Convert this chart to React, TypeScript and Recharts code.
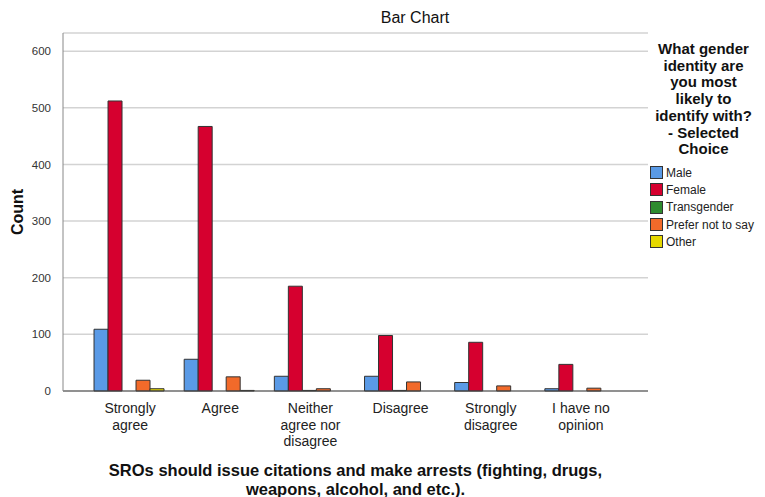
import React from "react";
import { BarChart, Bar, XAxis, YAxis, CartesianGrid } from "recharts";

document.body.style.margin = "0";

const CATEGORIES = ["Strongly agree", "Agree", "Neither agree nor disagree", "Disagree", "Strongly disagree", "I have no opinion"];
const MALE = [109, 56, 26, 26, 15, 4];
const FEMALE = [512, 467, 185, 98, 86, 47];
const TRANSGENDER = [0, 0, 1, 1, 0, 0];
const PREFER_NOT = [19, 25, 4, 16, 9, 5];
const OTHER = [4, 1, 0, 0, 0, 0];
const Y_TICKS = [0, 100, 200, 300, 400, 500, 600];

const SERIES = [
    { key: "male", name: "Male", color: "#5a9ae6" },
    { key: "female", name: "Female", color: "#d6002f" },
    { key: "transgender", name: "Transgender", color: "#2e8b2e" },
    { key: "prefer", name: "Prefer not to say", color: "#f26a2a" },
    { key: "other", name: "Other", color: "#e6d800" },
];

const LEGEND_TITLE = ["What gender", "identity are", "you most", "likely to", "identify with?", "- Selected", "Choice"];
const X_TITLE = ["SROs should issue citations and make arrests (fighting, drugs,", "weapons, alcohol, and etc.)."];

const data = CATEGORIES.map((name, i) => ({
    name,
    male: MALE[i],
    female: FEMALE[i],
    transgender: TRANSGENDER[i],
    prefer: PREFER_NOT[i],
    other: OTHER[i],
}));

const FONT = "'Liberation Sans', Arial, sans-serif";

function wrap(label: string, max = 9) {
    const lines: string[] = [];
    let cur = "";
    label.split(" ").forEach((w) => {
        if (cur && (cur + " " + w).length > max) {
            lines.push(cur);
            cur = w;
        } else {
            cur = cur ? cur + " " + w : w;
        }
    });
    if (cur) lines.push(cur);
    return lines;
}

function CategoryTick(props: any) {
    const { x, y, payload } = props;
    const lines = wrap(payload.value);
    return (
        <text x={x} y={y} textAnchor="middle" fontSize={14} fill="#222" fontFamily={FONT}>
            {lines.map((l, i) => (
                <tspan key={i} x={x} dy={i === 0 ? 14 : 16.5}>{l}</tspan>
            ))}
        </text>
    );
}

export default function App() {
    return (
        <div style={{ position: "relative", width: 765, height: 497, background: "#fff", fontFamily: FONT }}>
            <BarChart
                width={765}
                height={497}
                data={data}
                margin={{ top: 33, right: 117, bottom: 0, left: 0 }}
                barCategoryGap="10%"
                barGap={0}
            >
                <CartesianGrid vertical={false} stroke="#d3d3d3" strokeWidth={1.5} />
                <XAxis
                    dataKey="name"
                    interval={0}
                    tickLine={false}
                    axisLine={{ stroke: "#444" }}
                    padding={{ left: 22, right: 22 }}
                    tick={<CategoryTick />}
                    height={106}
                />
                <YAxis
                    width={63}
                    domain={[0, 632]}
                    ticks={Y_TICKS}
                    interval={0}
                    tickLine={false}
                    axisLine={{ stroke: "#888" }}
                    tick={{ fontSize: 11.5, fill: "#333", fontFamily: FONT }}
                    tickMargin={6}
                />
                {SERIES.map((s) => (
                    <Bar
                        key={s.key}
                        dataKey={s.key}
                        name={s.name}
                        fill={s.color}
                        stroke="#333"
                        strokeWidth={1}
                        isAnimationActive={false}
                    />
                ))}
            </BarChart>

            <div style={{ position: "absolute", top: 9, left: 0, width: 830, textAlign: "center", fontSize: 16, color: "#111" }}>
                Bar Chart
            </div>

            <div
                style={{
                    position: "absolute",
                    left: 18,
                    top: 212,
                    transform: "translate(-50%, -50%) rotate(-90deg)",
                    fontSize: 16,
                    fontWeight: "bold",
                    color: "#111",
                }}
            >
                Count
            </div>

            <div style={{ position: "absolute", top: 461, left: 40, width: 631, textAlign: "center", fontSize: 16.5, fontWeight: "bold", color: "#111", lineHeight: "18.5px" }}>
                {X_TITLE.map((l, i) => (
                    <div key={i}>{l}</div>
                ))}
            </div>

            <div style={{ position: "absolute", top: 41, left: 645, width: 117, textAlign: "center", fontSize: 15, fontWeight: "bold", color: "#111", lineHeight: "16.7px" }}>
                {LEGEND_TITLE.map((l, i) => (
                    <div key={i}>{l}</div>
                ))}
            </div>

            <div style={{ position: "absolute", top: 164, left: 650 }}>
                {SERIES.map((s) => (
                    <div key={s.key} style={{ display: "flex", alignItems: "center", height: 17.3 }}>
                        <div style={{ width: 11, height: 11, background: s.color, border: "1px solid #333", marginRight: 3 }} />
                        <span style={{ fontSize: 12, color: "#222" }}>{s.name}</span>
                    </div>
                ))}
            </div>
        </div>
    );
}
